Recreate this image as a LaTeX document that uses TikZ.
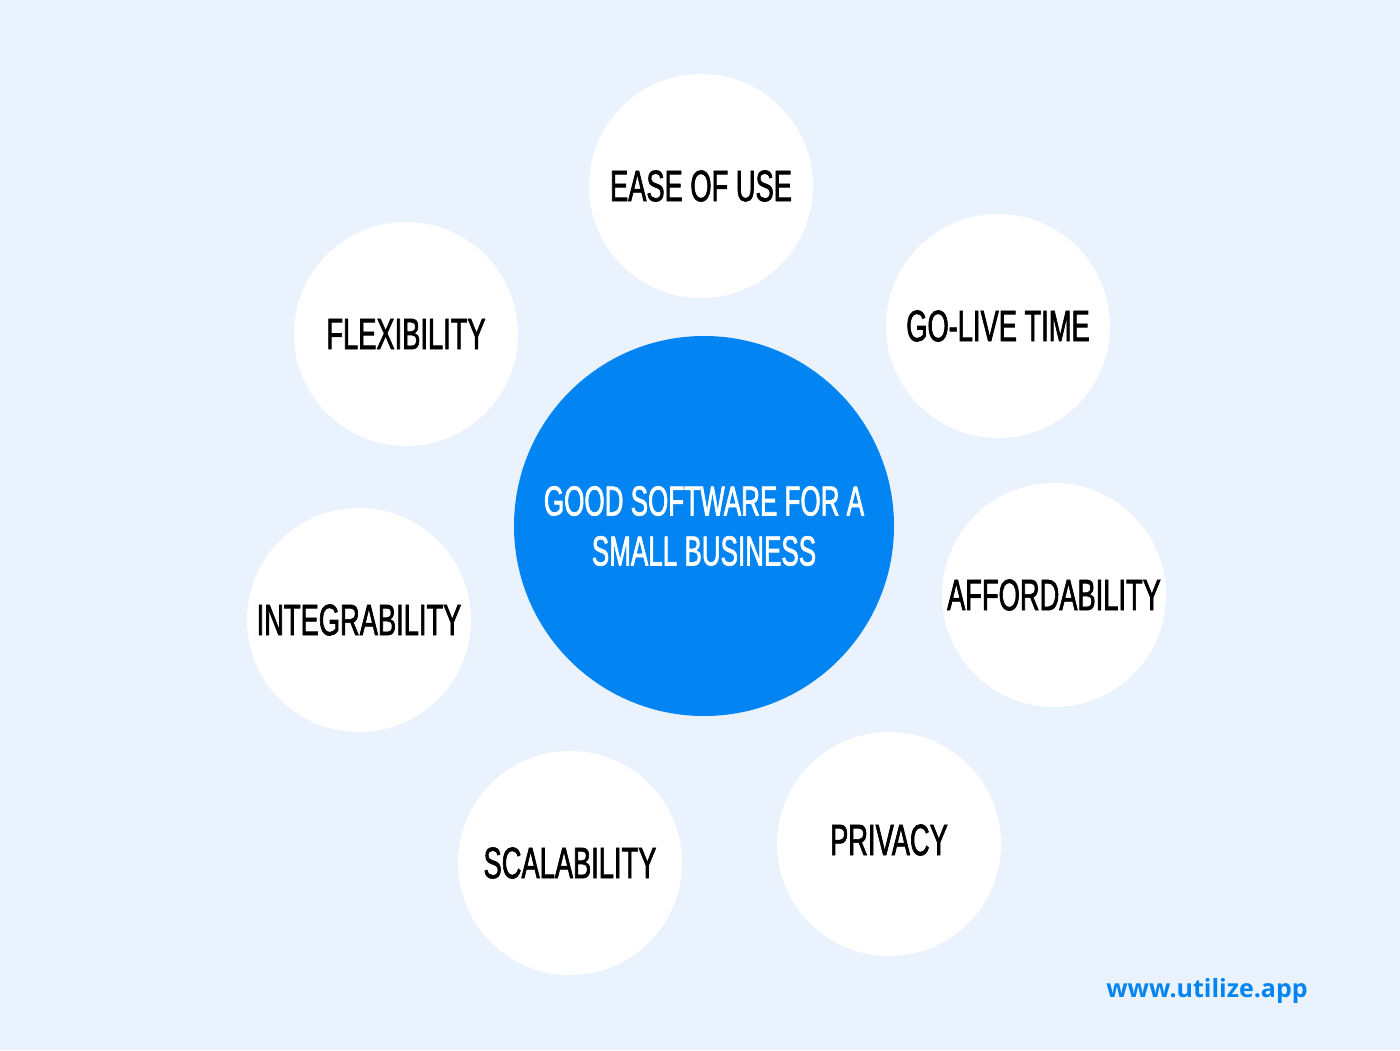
\documentclass[tikz,border=0pt]{standalone}
\usepackage{fontspec}
\setmainfont{Liberation Sans}
\newfontfamily\condfont[FakeStretch=0.62,FakeBold=1.5]{Liberation Sans}
\newfontfamily\urlfont{Open Sans}
\definecolor{bgblue}{HTML}{EAF3FD}
\definecolor{mainblue}{HTML}{0284F2}
\tikzset{every picture/.style={line width=0.75pt}}
\tikzset{
  topic/.style={circle,fill=white,minimum size=224pt,inner sep=0pt,align=center,
    font=\condfont\fontsize{44}{50}\selectfont},
  hub/.style={circle,fill=mainblue,text=white,minimum size=380pt,inner sep=0pt,align=center,
    font=\condfont\fontsize{42}{50}\selectfont}
}
\begin{document}
\begin{tikzpicture}[x=1pt,y=1pt,yscale=-1,xscale=1]
% background
\fill[bgblue] (0,0) rectangle (1400,1050);
\useasboundingbox (0,0) rectangle (1400,1050);

% Hub
\node[hub] (hub) at (704,526) {GOOD SOFTWARE FOR A\\SMALL BUSINESS};

% Topics
\node[topic] (ease) at (701,186) {EASE OF USE};
\node[topic] (flex) at (406,334) {FLEXIBILITY};
\node[topic] (golive) at (998,326) {GO-LIVE TIME};
\node[topic] (integ) at (359,620) {INTEGRABILITY};
\node[topic] (afford) at (1054,595) {AFFORDABILITY};
\node[topic] (scal) at (570,863) {SCALABILITY};
\node[topic] (priv) at (889,844) {};
\node (privtext) at (889,840) [font=\condfont\fontsize{44}{50}\selectfont] {PRIVACY};

% Text Node
\node[text=mainblue,font=\urlfont\bfseries\fontsize{25}{30}\selectfont] (url) at (1207,991) {www.utilize.app};
\end{tikzpicture}
\end{document}
